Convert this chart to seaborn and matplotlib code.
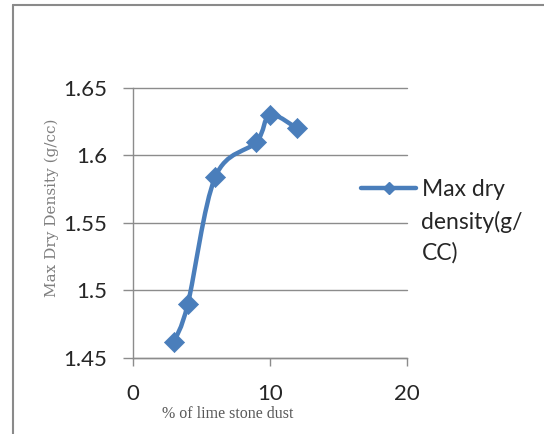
import numpy as np
import matplotlib
matplotlib.use("Agg")
import matplotlib.pyplot as plt
import seaborn as sns
from matplotlib.path import Path
from matplotlib.patches import PathPatch
from matplotlib.lines import Line2D
from matplotlib.legend_handler import HandlerLine2D

# ---- data ----
lime_pct = [3, 4, 6, 9, 10, 12]
max_dry_density = [1.462, 1.490, 1.584, 1.610, 1.630, 1.620]
series_label = "Max dry\ndensity(g/\nCC)"
x_ticks = [0, 10, 20]
y_ticks = [1.45, 1.5, 1.55, 1.6, 1.65]
y_tick_labels = ["1.45", "1.5", "1.55", "1.6", "1.65"]
x_label = "% of lime stone dust"
y_label = "Max Dry Density (g/cc)"

sns.set_theme(style="white")
plt.rcParams["font.family"] = ["Lato", "DejaVu Sans"]

BLUE = "#4a7ebb"
GRAY = "#8c8c8c"
TXT = "#262626"

fig = plt.figure(figsize=(5.44, 4.34), dpi=100)
ax = fig.add_axes([133 / 544, 1 - 358 / 434, 274 / 544, 270 / 434])

# smoothed line (Catmull-Rom style Bezier, like spreadsheet "smoothed line")
pts = np.column_stack([lime_pct, max_dry_density]).astype(float)
ext = np.vstack([pts[0], pts, pts[-1]])
verts = [tuple(pts[0])]
codes = [Path.MOVETO]
for i in range(len(pts) - 1):
    p0, p1, p2, p3 = ext[i], ext[i + 1], ext[i + 2], ext[i + 3]
    c1 = p1 + (p2 - p0) / 6.0
    c2 = p2 - (p3 - p1) / 6.0
    verts += [tuple(c1), tuple(c2), tuple(p2)]
    codes += [Path.CURVE4] * 3
ax.add_patch(PathPatch(Path(verts, codes), facecolor="none", edgecolor=BLUE,
                       lw=3.2, capstyle="round", joinstyle="round", zorder=3))

sns.scatterplot(x=lime_pct, y=max_dry_density, marker="D", s=105, color=BLUE,
                edgecolor=BLUE, linewidth=0.5, ax=ax, zorder=4, legend=False)

ax.set_xlim(0, 20)
ax.set_ylim(1.45, 1.65)
ax.set_xticks(x_ticks)
ax.set_xticklabels([str(v) for v in x_ticks])
ax.set_yticks(y_ticks)
ax.set_yticklabels(y_tick_labels)

ax.yaxis.grid(True, color=GRAY, lw=1)
ax.xaxis.grid(False)
for gl in ax.yaxis.get_gridlines():
    gl.set_clip_on(False)
ax.set_axisbelow(True)

for s in ["top", "right"]:
    ax.spines[s].set_visible(False)
for s in ["left", "bottom"]:
    ax.spines[s].set_color(GRAY)
    ax.spines[s].set_linewidth(1)

ax.tick_params(axis="x", which="major", direction="out", length=6, width=1,
               color=GRAY, labelsize=16, labelcolor=TXT, pad=12.5, bottom=True)
ax.tick_params(axis="y", which="major", direction="out", length=7, width=1,
               color=GRAY, labelsize=16, labelcolor=TXT, pad=11.5, left=True)

ax.set_xlabel(x_label, family="Liberation Serif", fontsize=11.5, color="#595959")
ax.set_ylabel(y_label, family="DejaVu Serif", fontsize=11, color="#7f7f7f")
ax.xaxis.set_label_coords(0.347, -0.178)
ax.yaxis.set_label_coords(-0.27, 0.557)


class TopHandler(HandlerLine2D):
    """Line handle aligned with the first line of a multi-line label."""

    def __init__(self, offset, **kw):
        super().__init__(**kw)
        self._off = offset

    def create_artists(self, legend, orig_handle, xdescent, ydescent,
                       width, height, fontsize, trans):
        return super().create_artists(legend, orig_handle, xdescent,
                                      ydescent - 2 * self._off, width, height,
                                      fontsize, trans)


handle = Line2D([], [], color=BLUE, lw=3.2, marker="D", markersize=6.5)
leg = ax.legend(handles=[handle], labels=[series_label], loc="upper left",
                bbox_to_anchor=(350 / 544, 1 - 168 / 434),
                bbox_transform=fig.transFigure, frameon=False, fontsize=16.5,
                handlelength=2.4, handletextpad=0.22, borderpad=0,
                labelcolor=TXT, handler_map={handle: TopHandler(24.5)})
for t in leg.get_texts():
    t.set_linespacing(1.55)

# outer chart frame (only top and left edges visible in the crop)
fig.add_artist(Line2D([13 / 544, 1], [1 - 5 / 434, 1 - 5 / 434],
                      transform=fig.transFigure, color="#8a8a8a", lw=1.5))
fig.add_artist(Line2D([13 / 544, 13 / 544], [0, 1 - 5 / 434],
                      transform=fig.transFigure, color="#8a8a8a", lw=1.5))

fig.savefig("out.png", dpi=100, facecolor="white")
